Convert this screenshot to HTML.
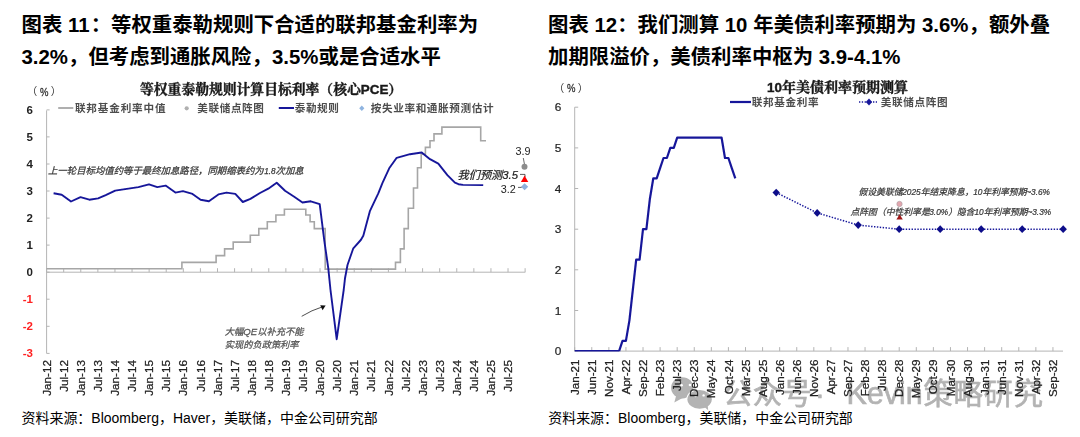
<!DOCTYPE html>
<html lang="zh"><head><meta charset="utf-8"><title>图表 11 / 图表 12</title>
<style>
html,body{margin:0;padding:0;background:#fff;}
body{width:1080px;height:437px;overflow:hidden;font-family:"Liberation Sans","Noto Sans CJK SC",sans-serif;}
svg{display:block;font-family:"Liberation Sans","Noto Sans CJK SC",sans-serif;}
.ch{filter:url(#soft);}
</style></head><body>
<svg width="1080" height="437" viewBox="0 0 1080 437">
<defs><filter id="soft" x="-2%" y="-2%" width="104%" height="104%"><feGaussianBlur stdDeviation="0.45"/></filter></defs>
<rect width="1080" height="437" fill="#fff"/>
<g id="wm" class="ch"><g fill="#b3b3b3">
<ellipse cx="682.3" cy="387.8" rx="11.2" ry="10.6"/><path d="M676.2 395.5L674.3 402.6 683 397.8z"/>
<ellipse cx="699.6" cy="399.3" rx="13.2" ry="10.3" fill="#fff"/>
<ellipse cx="699.6" cy="399.3" rx="12.2" ry="9.4"/><path d="M704.5 407L708.2 410.2 707.6 404.5z"/>
<circle cx="681.6" cy="385.3" r="1.3" fill="#fff"/><circle cx="690" cy="385" r="1.3" fill="#fff"/><circle cx="695.6" cy="396" r="1.2" fill="#fff"/><circle cx="703.6" cy="395.4" r="1.2" fill="#fff"/>
</g>
<g transform="translate(722.80,404.20)" fill="#b3b3b3"><text x="0.2" y="0" font-size="29.3" letter-spacing="0.4" stroke="#b3b3b3" stroke-width="0.64">公众号</text></g>
<g transform="translate(815.00,404.20)" fill="#b3b3b3"><text x="0" y="0" font-size="29.3" stroke="#b3b3b3" stroke-width="0.64">·</text></g>
<g transform="translate(846.50,404.20)" fill="#b3b3b3"><text x="0.00" y="0" font-size="30.50" stroke="#b3b3b3" stroke-width="0.67" xml:space="preserve">Kevin</text><text x="76.74" y="0" font-size="29.3" letter-spacing="0.9" stroke="#b3b3b3" stroke-width="0.64">策略研究</text></g></g>
<g id="chart1" class="ch"><path d="M46.6 110.4V353.4" stroke="#b4b4b4" stroke-width="1" fill="none"/>
<path d="M46.6 272.2H525.3" stroke="#b4b4b4" stroke-width="1" fill="none"/>
<path d="M46.6 353.4h3M46.6 326.3h3M46.6 299.2h3M46.6 272.2h3M46.6 245.1h3M46.6 218.1h3M46.6 191.0h3M46.6 164.0h3M46.6 136.9h3M46.6 109.9h3M46.60 272.2v-4M63.69 272.2v-4M80.78 272.2v-4M97.87 272.2v-4M114.96 272.2v-4M132.05 272.2v-4M149.14 272.2v-4M166.23 272.2v-4M183.32 272.2v-4M200.41 272.2v-4M217.50 272.2v-4M234.59 272.2v-4M251.68 272.2v-4M268.77 272.2v-4M285.86 272.2v-4M302.95 272.2v-4M320.04 272.2v-4M337.13 272.2v-4M354.22 272.2v-4M371.31 272.2v-4M388.40 272.2v-4M405.49 272.2v-4M422.58 272.2v-4M439.67 272.2v-4M456.76 272.2v-4M473.85 272.2v-4M490.94 272.2v-4M508.03 272.2v-4M525.12 272.2v-4" stroke="#b4b4b4" stroke-width="1" fill="none"/>
<text x="33" y="357.4" font-size="11.5" font-weight="bold" text-anchor="end" fill="#ff2020">-3</text>
<text x="33" y="330.3" font-size="11.5" font-weight="bold" text-anchor="end" fill="#ff2020">-2</text>
<text x="33" y="303.2" font-size="11.5" font-weight="bold" text-anchor="end" fill="#ff2020">-1</text>
<text x="33" y="276.2" font-size="11.5" font-weight="bold" text-anchor="end" fill="#222">0</text>
<text x="33" y="249.1" font-size="11.5" font-weight="bold" text-anchor="end" fill="#222">1</text>
<text x="33" y="222.1" font-size="11.5" font-weight="bold" text-anchor="end" fill="#222">2</text>
<text x="33" y="195.0" font-size="11.5" font-weight="bold" text-anchor="end" fill="#222">3</text>
<text x="33" y="168.0" font-size="11.5" font-weight="bold" text-anchor="end" fill="#222">4</text>
<text x="33" y="140.9" font-size="11.5" font-weight="bold" text-anchor="end" fill="#222">5</text>
<text x="33" y="113.9" font-size="11.5" font-weight="bold" text-anchor="end" fill="#222">6</text>
<text transform="translate(50.70,360) rotate(-90)" font-size="11.7" text-anchor="end" fill="#222" stroke="#222" stroke-width="0.25">Jan-12</text>
<text transform="translate(67.79,360) rotate(-90)" font-size="11.7" text-anchor="end" fill="#222" stroke="#222" stroke-width="0.25">Jul-12</text>
<text transform="translate(84.88,360) rotate(-90)" font-size="11.7" text-anchor="end" fill="#222" stroke="#222" stroke-width="0.25">Jan-13</text>
<text transform="translate(101.97,360) rotate(-90)" font-size="11.7" text-anchor="end" fill="#222" stroke="#222" stroke-width="0.25">Jul-13</text>
<text transform="translate(119.06,360) rotate(-90)" font-size="11.7" text-anchor="end" fill="#222" stroke="#222" stroke-width="0.25">Jan-14</text>
<text transform="translate(136.15,360) rotate(-90)" font-size="11.7" text-anchor="end" fill="#222" stroke="#222" stroke-width="0.25">Jul-14</text>
<text transform="translate(153.24,360) rotate(-90)" font-size="11.7" text-anchor="end" fill="#222" stroke="#222" stroke-width="0.25">Jan-15</text>
<text transform="translate(170.33,360) rotate(-90)" font-size="11.7" text-anchor="end" fill="#222" stroke="#222" stroke-width="0.25">Jul-15</text>
<text transform="translate(187.42,360) rotate(-90)" font-size="11.7" text-anchor="end" fill="#222" stroke="#222" stroke-width="0.25">Jan-16</text>
<text transform="translate(204.51,360) rotate(-90)" font-size="11.7" text-anchor="end" fill="#222" stroke="#222" stroke-width="0.25">Jul-16</text>
<text transform="translate(221.60,360) rotate(-90)" font-size="11.7" text-anchor="end" fill="#222" stroke="#222" stroke-width="0.25">Jan-17</text>
<text transform="translate(238.69,360) rotate(-90)" font-size="11.7" text-anchor="end" fill="#222" stroke="#222" stroke-width="0.25">Jul-17</text>
<text transform="translate(255.78,360) rotate(-90)" font-size="11.7" text-anchor="end" fill="#222" stroke="#222" stroke-width="0.25">Jan-18</text>
<text transform="translate(272.87,360) rotate(-90)" font-size="11.7" text-anchor="end" fill="#222" stroke="#222" stroke-width="0.25">Jul-18</text>
<text transform="translate(289.96,360) rotate(-90)" font-size="11.7" text-anchor="end" fill="#222" stroke="#222" stroke-width="0.25">Jan-19</text>
<text transform="translate(307.05,360) rotate(-90)" font-size="11.7" text-anchor="end" fill="#222" stroke="#222" stroke-width="0.25">Jul-19</text>
<text transform="translate(324.14,360) rotate(-90)" font-size="11.7" text-anchor="end" fill="#222" stroke="#222" stroke-width="0.25">Jan-20</text>
<text transform="translate(341.23,360) rotate(-90)" font-size="11.7" text-anchor="end" fill="#222" stroke="#222" stroke-width="0.25">Jul-20</text>
<text transform="translate(358.32,360) rotate(-90)" font-size="11.7" text-anchor="end" fill="#222" stroke="#222" stroke-width="0.25">Jan-21</text>
<text transform="translate(375.41,360) rotate(-90)" font-size="11.7" text-anchor="end" fill="#222" stroke="#222" stroke-width="0.25">Jul-21</text>
<text transform="translate(392.50,360) rotate(-90)" font-size="11.7" text-anchor="end" fill="#222" stroke="#222" stroke-width="0.25">Jan-22</text>
<text transform="translate(409.59,360) rotate(-90)" font-size="11.7" text-anchor="end" fill="#222" stroke="#222" stroke-width="0.25">Jul-22</text>
<text transform="translate(426.68,360) rotate(-90)" font-size="11.7" text-anchor="end" fill="#222" stroke="#222" stroke-width="0.25">Jan-23</text>
<text transform="translate(443.77,360) rotate(-90)" font-size="11.7" text-anchor="end" fill="#222" stroke="#222" stroke-width="0.25">Jul-23</text>
<text transform="translate(460.86,360) rotate(-90)" font-size="11.7" text-anchor="end" fill="#222" stroke="#222" stroke-width="0.25">Jan-24</text>
<text transform="translate(477.95,360) rotate(-90)" font-size="11.7" text-anchor="end" fill="#222" stroke="#222" stroke-width="0.25">Jul-24</text>
<text transform="translate(495.04,360) rotate(-90)" font-size="11.7" text-anchor="end" fill="#222" stroke="#222" stroke-width="0.25">Jan-25</text>
<text transform="translate(512.13,360) rotate(-90)" font-size="11.7" text-anchor="end" fill="#222" stroke="#222" stroke-width="0.25">Jul-25</text>
<path d="M46.6 268.8H181.9V262.4H216.1V255.6H224.6V248.9H233.2V242.1H250.3V235.3H258.8V228.6H267.3V221.8H275.9V215.0H284.4V209.2H305.8V215.0H310.1V221.8H314.3V228.6H325.2V269.1H395.5V262.4H400.4V248.9H404.1V228.6H408.3V208.3H413.5V188.0H417.5V167.7H421.2V154.2H425.4V147.4H430.0V140.7H434.0V133.9H441.9V127.1H480.7V140.7H486.0" stroke="#a6a6a6" stroke-width="1.6" fill="none"/>
<path d="M53.6 193.2 L61.7 194.7 L71.0 201.5 L80.5 197.2 L89.3 199.7 L98.1 198.4 L105.7 195.2 L115.2 190.6 L138.4 187.1 L149.0 184.3 L157.3 187.1 L165.6 185.6 L175.4 192.6 L182.9 191.1 L192.5 193.9 L200.6 199.7 L208.9 201.2 L218.4 194.4 L226.5 192.6 L235.3 193.9 L242.8 202.0 L250.4 198.9 L260.0 193.0 L268.3 188.7 L276.7 182.7 L285.0 190.8 L294.2 196.7 L302.5 202.5 L310.8 201.3 L319.7 204.2 L324.2 240.0 L328.3 268.3 L330.5 290.0 L336.7 339.2 L343.7 290.0 L345.0 278.3 L347.5 265.0 L353.3 248.3 L360.8 240.0 L363.3 235.8 L370.0 210.8 L378.3 193.3 L382.5 182.8 L389.2 168.3 L396.7 157.8 L410.0 154.2 L421.7 152.5 L430.0 159.2 L438.3 163.7 L447.4 175.2 L454.9 182.7 L458.5 184.2 L463.0 184.9 L483.2 185.1" stroke="#17179a" stroke-width="1.9" fill="none" stroke-linejoin="round"/>
<g transform="translate(140.00,94.30)" fill="#1a1a1a"><text x="0" y="0" font-family="'Liberation Sans','Noto Serif CJK SC',serif" font-size="13.8" font-weight="bold" stroke="#1a1a1a" stroke-width="0.4">等权重泰勒规则计算目标利率（核心<tspan x="220.8" font-size="13.4">PCE</tspan><tspan x="248.35">）</tspan></text></g>
<g transform="translate(26.80,95.30)" fill="#333"><text x="0" y="0" font-size="10.5">（</text></g>
<text transform="translate(40,95.6) scale(0.82,1)" font-size="11.6" fill="#333" stroke="#333" stroke-width="0.3">%</text>
<g transform="translate(50.80,95.30)" fill="#333"><text x="0" y="0" font-size="10.5">）</text></g>
<path d="M58.2 108H73.3" stroke="#a6a6a6" stroke-width="1.8"/>
<g transform="translate(74.50,112.00)" fill="#4d4d4d"><text x="0.42" y="0" font-size="10.6" font-weight="bold" letter-spacing="0.85">联邦基金利率中值</text></g>
<circle cx="186.7" cy="108.3" r="2.1" fill="#b0b0b0"/>
<g transform="translate(197.00,112.00)" fill="#4d4d4d"><text x="0.3" y="0" font-size="10.6" font-weight="bold" letter-spacing="0.6">美联储点阵图</text></g>
<path d="M278.8 108H294" stroke="#17179a" stroke-width="2"/>
<g transform="translate(294.40,112.00)" fill="#4d4d4d"><text x="0.3" y="0" font-size="10.6" font-weight="bold" letter-spacing="0.6">泰勒规则</text></g>
<path d="M361.8 105.6l2.6 2.7-2.6 2.7-2.6-2.7z" fill="#8fb4e0"/>
<g transform="translate(370.50,112.00)" fill="#4d4d4d"><text x="0.31" y="0" font-size="10.6" font-weight="bold" letter-spacing="0.62">按失业率和通胀预测估计</text></g>
<g transform="translate(48.00,173.80)" fill="#3a3a3a"><text x="0" y="0" font-size="9.4" font-style="italic" stroke="#3a3a3a" stroke-width="0.25">上一轮目标均值约等于最终加息路径，同期缩表约为<tspan x="216.2" font-size="8.2">1.8</tspan><tspan x="227.6">次加息</tspan></text></g>
<g transform="translate(224.70,335.00)" fill="#555"><text x="0" y="0" font-size="9.3" font-style="italic" stroke="#555" stroke-width="0.26">大幅<tspan x="18.6" font-size="9.6">QE</tspan><tspan x="32.47">以补充不能</tspan></text></g>
<g transform="translate(224.70,347.50)" fill="#555"><text x="0" y="0" font-size="9.2" font-style="italic" letter-spacing="0.05" stroke="#555" stroke-width="0.26">实现的负政策利率</text></g>
<path d="M301.7 316.3Q312 310 322 307" stroke="#222" stroke-width="0.8" fill="none"/><path d="M325.6 305.6L320.2 305.2 322.6 310.2z" fill="#111"/>
<text x="515.6" y="155.2" font-size="10.8" fill="#222">3.9</text>
<path d="M523.3 158L524.5 164.5" stroke="#444" stroke-width="0.8"/>
<circle cx="524.5" cy="166.7" r="3" fill="#8c8c8c"/>
<g transform="translate(457.50,179.00)" fill="#222"><text x="0" y="0" font-size="11.2" font-style="italic" stroke="#222" stroke-width="0.22">我们预测<tspan x="44.8" font-size="11.3">3.5</tspan></text></g>
<path d="M520 174.4H525V177" stroke="#333" stroke-width="0.8" fill="none"/>
<path d="M524.6 175.6L528.3 182H520.9z" fill="#ff0000"/>
<path d="M524.6 183.3l3.6 3.5-3.6 3.5-3.6-3.5z" fill="#8fb0dc"/>
<text x="500.8" y="193.2" font-size="10.8" fill="#222">3.2</text>
<path d="M518 187.4H521.6" stroke="#333" stroke-width="0.8"/></g>
<g id="chart2" class="ch"><path d="M574.7 107.2V351.1" stroke="#b4b4b4" stroke-width="1" fill="none"/>
<path d="M574.7 351.1H1063" stroke="#b4b4b4" stroke-width="1" fill="none"/>
<path d="M574.7 351.1h3.5M574.7 310.5h3.5M574.7 269.8h3.5M574.7 229.2h3.5M574.7 188.5h3.5M574.7 147.9h3.5M574.7 107.2h3.5M574.70 351.1v-4M591.78 351.1v-4M608.86 351.1v-4M625.94 351.1v-4M643.02 351.1v-4M660.10 351.1v-4M677.18 351.1v-4M694.26 351.1v-4M711.34 351.1v-4M728.42 351.1v-4M745.50 351.1v-4M762.58 351.1v-4M779.66 351.1v-4M796.74 351.1v-4M813.82 351.1v-4M830.90 351.1v-4M847.98 351.1v-4M865.06 351.1v-4M882.14 351.1v-4M899.22 351.1v-4M916.30 351.1v-4M933.38 351.1v-4M950.46 351.1v-4M967.54 351.1v-4M984.62 351.1v-4M1001.70 351.1v-4M1018.78 351.1v-4M1035.86 351.1v-4M1052.94 351.1v-4" stroke="#b4b4b4" stroke-width="1" fill="none"/>
<text x="561.3" y="355.2" font-size="11.8" text-anchor="end" fill="#222" stroke="#222" stroke-width="0.2">0</text>
<text x="561.3" y="314.6" font-size="11.8" text-anchor="end" fill="#222" stroke="#222" stroke-width="0.2">1</text>
<text x="561.3" y="273.9" font-size="11.8" text-anchor="end" fill="#222" stroke="#222" stroke-width="0.2">2</text>
<text x="561.3" y="233.3" font-size="11.8" text-anchor="end" fill="#222" stroke="#222" stroke-width="0.2">3</text>
<text x="561.3" y="192.6" font-size="11.8" text-anchor="end" fill="#222" stroke="#222" stroke-width="0.2">4</text>
<text x="561.3" y="152.0" font-size="11.8" text-anchor="end" fill="#222" stroke="#222" stroke-width="0.2">5</text>
<text x="561.3" y="111.3" font-size="11.8" text-anchor="end" fill="#222" stroke="#222" stroke-width="0.2">6</text>
<text transform="translate(578.80,359.5) rotate(-90)" font-size="11.6" text-anchor="end" fill="#222" stroke="#222" stroke-width="0.25">Jan-21</text>
<text transform="translate(595.88,359.5) rotate(-90)" font-size="11.6" text-anchor="end" fill="#222" stroke="#222" stroke-width="0.25">Jun-21</text>
<text transform="translate(612.96,359.5) rotate(-90)" font-size="11.6" text-anchor="end" fill="#222" stroke="#222" stroke-width="0.25">Nov-21</text>
<text transform="translate(630.04,359.5) rotate(-90)" font-size="11.6" text-anchor="end" fill="#222" stroke="#222" stroke-width="0.25">Apr-22</text>
<text transform="translate(647.12,359.5) rotate(-90)" font-size="11.6" text-anchor="end" fill="#222" stroke="#222" stroke-width="0.25">Sep-22</text>
<text transform="translate(664.20,359.5) rotate(-90)" font-size="11.6" text-anchor="end" fill="#222" stroke="#222" stroke-width="0.25">Feb-23</text>
<text transform="translate(681.28,359.5) rotate(-90)" font-size="11.6" text-anchor="end" fill="#222" stroke="#222" stroke-width="0.25">Jul-23</text>
<text transform="translate(698.36,359.5) rotate(-90)" font-size="11.6" text-anchor="end" fill="#222" stroke="#222" stroke-width="0.25">Dec-23</text>
<text transform="translate(715.44,359.5) rotate(-90)" font-size="11.6" text-anchor="end" fill="#222" stroke="#222" stroke-width="0.25">May-24</text>
<text transform="translate(732.52,359.5) rotate(-90)" font-size="11.6" text-anchor="end" fill="#222" stroke="#222" stroke-width="0.25">Oct-24</text>
<text transform="translate(749.60,359.5) rotate(-90)" font-size="11.6" text-anchor="end" fill="#222" stroke="#222" stroke-width="0.25">Mar-25</text>
<text transform="translate(766.68,359.5) rotate(-90)" font-size="11.6" text-anchor="end" fill="#222" stroke="#222" stroke-width="0.25">Aug-25</text>
<text transform="translate(783.76,359.5) rotate(-90)" font-size="11.6" text-anchor="end" fill="#222" stroke="#222" stroke-width="0.25">Jan-26</text>
<text transform="translate(800.84,359.5) rotate(-90)" font-size="11.6" text-anchor="end" fill="#222" stroke="#222" stroke-width="0.25">Jun-26</text>
<text transform="translate(817.92,359.5) rotate(-90)" font-size="11.6" text-anchor="end" fill="#222" stroke="#222" stroke-width="0.25">Nov-26</text>
<text transform="translate(835.00,359.5) rotate(-90)" font-size="11.6" text-anchor="end" fill="#222" stroke="#222" stroke-width="0.25">Apr-27</text>
<text transform="translate(852.08,359.5) rotate(-90)" font-size="11.6" text-anchor="end" fill="#222" stroke="#222" stroke-width="0.25">Sep-27</text>
<text transform="translate(869.16,359.5) rotate(-90)" font-size="11.6" text-anchor="end" fill="#222" stroke="#222" stroke-width="0.25">Feb-28</text>
<text transform="translate(886.24,359.5) rotate(-90)" font-size="11.6" text-anchor="end" fill="#222" stroke="#222" stroke-width="0.25">Jul-28</text>
<text transform="translate(903.32,359.5) rotate(-90)" font-size="11.6" text-anchor="end" fill="#222" stroke="#222" stroke-width="0.25">Dec-28</text>
<text transform="translate(920.40,359.5) rotate(-90)" font-size="11.6" text-anchor="end" fill="#222" stroke="#222" stroke-width="0.25">May-29</text>
<text transform="translate(937.48,359.5) rotate(-90)" font-size="11.6" text-anchor="end" fill="#222" stroke="#222" stroke-width="0.25">Oct-29</text>
<text transform="translate(954.56,359.5) rotate(-90)" font-size="11.6" text-anchor="end" fill="#222" stroke="#222" stroke-width="0.25">Mar-30</text>
<text transform="translate(971.64,359.5) rotate(-90)" font-size="11.6" text-anchor="end" fill="#222" stroke="#222" stroke-width="0.25">Aug-30</text>
<text transform="translate(988.72,359.5) rotate(-90)" font-size="11.6" text-anchor="end" fill="#222" stroke="#222" stroke-width="0.25">Jan-31</text>
<text transform="translate(1005.80,359.5) rotate(-90)" font-size="11.6" text-anchor="end" fill="#222" stroke="#222" stroke-width="0.25">Jun-31</text>
<text transform="translate(1022.88,359.5) rotate(-90)" font-size="11.6" text-anchor="end" fill="#222" stroke="#222" stroke-width="0.25">Nov-31</text>
<text transform="translate(1039.96,359.5) rotate(-90)" font-size="11.6" text-anchor="end" fill="#222" stroke="#222" stroke-width="0.25">Apr-32</text>
<text transform="translate(1057.04,359.5) rotate(-90)" font-size="11.6" text-anchor="end" fill="#222" stroke="#222" stroke-width="0.25">Sep-32</text>
<path d="M574.7 350.8H619.1" stroke="#17179a" stroke-width="1.5" fill="none"/>
<path d="M619.1 351.1 L622.5 340.9 L625.9 340.9 L629.4 320.6 L632.8 290.1 L636.2 259.6 L639.6 259.6 L643.0 229.2 L646.4 229.2 L649.9 198.7 L653.3 178.3 L656.7 178.3 L660.1 168.2 L663.5 158.0 L666.9 158.0 L670.3 147.9 L673.8 147.9 L677.2 137.7 L680.6 137.7 L684.0 137.7 L687.4 137.7 L690.8 137.7 L694.3 137.7 L697.7 137.7 L701.1 137.7 L704.5 137.7 L707.9 137.7 L711.3 137.7 L714.8 137.7 L718.2 137.7 L721.6 137.7 L725.0 158.0 L728.4 158.0 L731.8 168.2 L735.3 178.3" stroke="#17179a" stroke-width="2.2" fill="none" stroke-linejoin="round"/>
<path d="M776.2 192.6 L817.2 212.9 L858.2 225.1 L899.2 229.2 L940.2 229.2 L981.2 229.2 L1022.2 229.2 L1063.2 229.2" stroke="#17179a" stroke-width="1.5" stroke-dasharray="1.4 1.5" fill="none"/>
<path d="M776.2 188.7l3.7 3.9-3.7 3.9-3.7-3.9z" fill="#10108a"/>
<path d="M817.2 209.0l3.7 3.9-3.7 3.9-3.7-3.9z" fill="#10108a"/>
<path d="M858.2 221.2l3.7 3.9-3.7 3.9-3.7-3.9z" fill="#10108a"/>
<path d="M899.2 225.3l3.7 3.9-3.7 3.9-3.7-3.9z" fill="#10108a"/>
<path d="M940.2 225.3l3.7 3.9-3.7 3.9-3.7-3.9z" fill="#10108a"/>
<path d="M981.2 225.3l3.7 3.9-3.7 3.9-3.7-3.9z" fill="#10108a"/>
<path d="M1022.2 225.3l3.7 3.9-3.7 3.9-3.7-3.9z" fill="#10108a"/>
<path d="M1063.2 225.3l3.7 3.9-3.7 3.9-3.7-3.9z" fill="#10108a"/>
<g transform="translate(767.00,92.00)" fill="#1a1a1a"><text x="0" y="0" font-family="'Liberation Sans','Noto Serif CJK SC',serif" font-size="13.4" font-weight="bold" stroke="#1a1a1a" stroke-width="0.4">10<tspan x="14.9" font-size="14">年美债利率预期测算</tspan></text></g>
<g transform="translate(553.80,91.80)" fill="#333"><text x="0" y="0" font-size="10.5">（</text></g>
<text transform="translate(567,92.1) scale(0.82,1)" font-size="11.6" fill="#333" stroke="#333" stroke-width="0.3">%</text>
<g transform="translate(577.80,91.80)" fill="#333"><text x="0" y="0" font-size="10.5">）</text></g>
<path d="M730 102H751" stroke="#17179a" stroke-width="2.2"/>
<g transform="translate(751.40,105.80)" fill="#4d4d4d"><text x="0.33" y="0" font-size="10.6" font-weight="bold" letter-spacing="0.65">联邦基金利率</text></g>
<path d="M859 102H877" stroke="#17179a" stroke-width="1.3" stroke-dasharray="1.3 1.5"/>
<path d="M869 98.6l3.2 3.4-3.2 3.4-3.2-3.4z" fill="#17179a"/>
<g transform="translate(880.30,105.80)" fill="#4d4d4d"><text x="0.35" y="0" font-size="10.6" font-weight="bold" letter-spacing="0.7">美联储点阵图</text></g>
<g transform="translate(858.50,195.40)" fill="#3a3a3a"><text x="0" y="0" font-size="8.8" font-style="italic" stroke="#3a3a3a" stroke-width="0.24">假设美联储<tspan x="43.75" font-size="8.3">2025</tspan><tspan x="62.21">年结束降息，</tspan><tspan x="114.71" font-size="8.3">10</tspan><tspan x="123.95">年利率预期</tspan><tspan x="167.7" font-size="8.3">~3.6%</tspan></text></g>
<g transform="translate(850.50,214.80)" fill="#3a3a3a"><text x="0" y="0" font-size="8.8" font-style="italic" stroke="#3a3a3a" stroke-width="0.24">点阵图（中性利率是<tspan x="78.75" font-size="8.3">3.0%</tspan><tspan x="97.67">）隐含</tspan><tspan x="123.92" font-size="8.3">10</tspan><tspan x="133.15">年利率预期</tspan><tspan x="176.9" font-size="8.3">~3.3%</tspan></text></g>
<circle cx="899.5" cy="204" r="2.7" fill="#e3a6ae" stroke="#a9a0a4" stroke-width="0.6"/>
<path d="M899.6 214.3L902.8 219.6H896.4z" fill="#a01414"/></g>
<g id="titles"><g transform="translate(21.50,32.00)" fill="#000"><text x="0" y="0" font-size="20.4" font-weight="bold" xml:space="preserve">图表 11<tspan x="69.16">：等权重泰勒规则下合适的联邦基金利率为</tspan></text></g>
<g transform="translate(21.50,64.00)" fill="#000"><text x="0" y="0" font-size="20.4" font-weight="bold" xml:space="preserve">3.2%<tspan x="46.5">，但考虑到通胀风险，</tspan><tspan x="250.5">3.5%</tspan><tspan x="297">或是合适水平</tspan></text></g>
<g transform="translate(548.00,32.00)" fill="#000"><text x="0" y="0" font-size="20.4" font-weight="bold" xml:space="preserve">图表 12<tspan x="69.16">：我们测算 10 </tspan><tspan x="205.19">年美债利率预期为 3.6%</tspan><tspan x="420.55">，额外叠</tspan></text></g>
<g transform="translate(548.00,64.00)" fill="#000"><text x="0" y="0" font-size="20.4" font-weight="bold" xml:space="preserve">加期限溢价，美债利率中枢为 3.9-4.1%</text></g>
<g transform="translate(21.50,423.30)" fill="#000"><text x="0" y="0" font-size="13.97" xml:space="preserve">资料来源：<tspan x="69.85">Bloomberg</tspan><tspan x="137.41">，</tspan><tspan x="151.38">Haver</tspan><tspan x="188.64">，美联储，中金公司研究部</tspan></text></g>
<g transform="translate(548.30,423.30)" fill="#000"><text x="0" y="0" font-size="13.95" xml:space="preserve">资料来源：<tspan x="69.75">Bloomberg</tspan><tspan x="137.21">，美联储，中金公司研究部</tspan></text></g></g>
</svg>
</body></html>
